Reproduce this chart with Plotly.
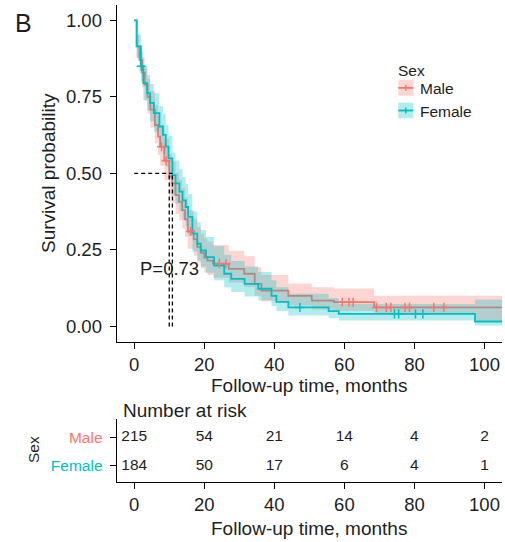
import plotly.graph_objects as go

# Kaplan-Meier estimates by sex: step times (months), survival and 95% CI
male_time = [0, 0.7, 1.5, 2.3, 3.0, 3.8, 4.6, 5.9, 6.8, 7.4, 8.6, 10.0, 10.8, 11.8, 12.8,
             13.7, 14.5, 15.3, 17.0, 18.0, 19.0, 20.0, 20.9, 22.5, 27.0, 31.4, 34.4,
             36.3, 44.0, 50.7, 57.0, 68.5, 97.3]
male_surv = [1.0, 0.915, 0.870, 0.830, 0.790, 0.750, 0.708, 0.658, 0.620, 0.587, 0.541,
             0.490, 0.467, 0.429, 0.407, 0.380, 0.350, 0.310, 0.285, 0.260, 0.240, 0.225,
             0.215, 0.205, 0.188, 0.172, 0.139, 0.117, 0.100, 0.084, 0.079, 0.062, 0.062]
male_lower = [1.0, 0.878, 0.826, 0.781, 0.737, 0.694, 0.650, 0.598, 0.559, 0.525, 0.478,
              0.427, 0.404, 0.367, 0.346, 0.320, 0.291, 0.254, 0.231, 0.208, 0.190, 0.176,
              0.168, 0.159, 0.143, 0.129, 0.100, 0.082, 0.068, 0.055, 0.050, 0.041, 0.019]
male_upper = [1.0, 0.952, 0.916, 0.880, 0.845, 0.809, 0.770, 0.723, 0.687, 0.656, 0.612,
              0.562, 0.539, 0.502, 0.479, 0.451, 0.421, 0.380, 0.352, 0.325, 0.303, 0.287,
              0.277, 0.266, 0.247, 0.229, 0.193, 0.168, 0.140, 0.128, 0.124, 0.100, 0.100]
male_censor = [7.8, 9.1, 16.1, 24.3, 26.2, 59.4, 61.3, 62.5, 69.2, 72.0, 73.3, 77.3,
               78.6, 85.5, 88.4]

female_time = [0, 0.7, 1.9, 2.6, 3.7, 4.5, 5.6, 7.2, 8.2, 9.0, 9.8, 10.9, 11.8, 12.9, 13.8,
               14.7, 15.4, 16.6, 18.0, 19.0, 20.5, 22.8, 25.7, 27.7, 31.5, 35.4, 39.2,
               40.6, 44.0, 55.5, 58.4, 97.3]
female_surv = [1.0, 0.915, 0.850, 0.795, 0.762, 0.730, 0.697, 0.653, 0.626, 0.587, 0.549,
               0.494, 0.467, 0.440, 0.412, 0.390, 0.358, 0.303, 0.270, 0.248, 0.226, 0.199,
               0.172, 0.155, 0.139, 0.123, 0.100, 0.080, 0.062, 0.050, 0.041, 0.016]
female_lower = [1.0, 0.875, 0.800, 0.740, 0.705, 0.670, 0.636, 0.590, 0.562, 0.522, 0.484,
                0.428, 0.401, 0.375, 0.348, 0.327, 0.297, 0.245, 0.215, 0.195, 0.175, 0.151,
                0.127, 0.112, 0.098, 0.085, 0.066, 0.050, 0.036, 0.027, 0.019, 0.003]
female_upper = [1.0, 0.955, 0.900, 0.850, 0.822, 0.792, 0.762, 0.720, 0.695, 0.658, 0.622,
                0.568, 0.542, 0.515, 0.488, 0.465, 0.432, 0.375, 0.340, 0.316, 0.292, 0.262,
                0.233, 0.214, 0.196, 0.178, 0.151, 0.128, 0.107, 0.092, 0.073, 0.088]
female_censor = [2.0, 47.3, 74.3, 75.5, 80.3, 82.4]

followup_end = 110
p_value = 0.73

# Number at risk table
risk_times = [0, 20, 40, 60, 80, 100]
male_at_risk = [215, 54, 21, 14, 4, 2]
female_at_risk = [184, 50, 17, 6, 4, 1]

MALE_COLOR = "#F8766D"
FEMALE_COLOR = "#00BFC4"
MALE_FILL = "rgba(248,118,109,0.3)"
FEMALE_FILL = "rgba(0,191,196,0.3)"
TEXT = "#1e1e1e"
FONT = "Liberation Sans, Arial, sans-serif"

W, H = 505, 542


def px(x):
    return x / W


def py(y):
    return 1 - y / H


def step_value(times, values, t):
    out = values[0]
    for ti, vi in zip(times, values):
        if ti <= t:
            out = vi
    return out


def median_time(times, surv):
    for ti, si in zip(times, surv):
        if si <= 0.5:
            return ti
    return None


fig = go.Figure()


def add_group(times, surv, lower, upper, line_color, fill_color):
    xs = times + [followup_end]
    fig.add_trace(go.Scatter(x=xs, y=lower + [lower[-1]], mode="lines",
                             line=dict(width=0, shape="hv"), hoverinfo="skip",
                             showlegend=False))
    fig.add_trace(go.Scatter(x=xs, y=upper + [upper[-1]], mode="lines",
                             line=dict(width=0, shape="hv"), fill="tonexty",
                             fillcolor=fill_color, hoverinfo="skip", showlegend=False))
    fig.add_trace(go.Scatter(x=xs, y=surv + [surv[-1]], mode="lines",
                             line=dict(color=line_color, width=1.8, shape="hv"),
                             showlegend=False))


add_group(male_time, male_surv, male_lower, male_upper, MALE_COLOR, MALE_FILL)
add_group(female_time, female_surv, female_lower, female_upper, FEMALE_COLOR, FEMALE_FILL)

# Censoring marks
for cens, times, surv, color in [(male_censor, male_time, male_surv, MALE_COLOR),
                                 (female_censor, female_time, female_surv, FEMALE_COLOR)]:
    fig.add_trace(go.Scatter(
        x=cens, y=[step_value(times, surv, c) for c in cens], mode="markers",
        marker=dict(symbol="cross-thin", size=6.5, line=dict(color=color, width=1.5)),
        showlegend=False))

# Median survival reference lines
med_m = median_time(male_time, male_surv)
med_f = median_time(female_time, female_surv)
dash = dict(color="black", width=1.3, dash="4px,3px")
fig.add_trace(go.Scatter(x=[0, max(med_m, med_f)], y=[0.5, 0.5], mode="lines",
                         line=dash, showlegend=False))
for m in (med_m, med_f):
    fig.add_trace(go.Scatter(x=[m, m], y=[0, 0.5], mode="lines", line=dash,
                             showlegend=False))

# Number at risk
for counts, row in [(male_at_risk, 1), (female_at_risk, 0)]:
    fig.add_trace(go.Scatter(x=risk_times, y=[row] * len(risk_times), mode="text",
                             text=[str(c) for c in counts],
                             textfont=dict(size=15.5, color=TEXT, family=FONT),
                             xaxis="x2", yaxis="y2", showlegend=False))

axis_common = dict(showline=True, linecolor="black", linewidth=1.1, ticks="outside",
                   ticklen=6, tickwidth=1.1, tickcolor="black", showgrid=False,
                   zeroline=False, tickfont=dict(size=18.5, color=TEXT, family=FONT))

x_domain = [px(116.7), px(502)]
fig.update_layout(
    width=W, height=H, margin=dict(l=0, r=0, t=0, b=0),
    paper_bgcolor="white", plot_bgcolor="white", font=dict(family=FONT, color=TEXT),
    xaxis=dict(domain=x_domain, range=[-5, 105], tickvals=risk_times, anchor="y",
               ticklabelstandoff=0, **axis_common),
    yaxis=dict(domain=[py(341.7), py(5)], range=[-0.05, 1.05],
               tickvals=[0, 0.25, 0.5, 0.75, 1.0], tickformat=".2f", anchor="x",
               ticklabelstandoff=4, **axis_common),
    xaxis2=dict(domain=x_domain, range=[-5, 105], tickvals=risk_times, anchor="y2",
                ticklabelstandoff=0, **axis_common),
    yaxis2=dict(domain=[py(481.7), py(419)], range=[-0.55, 1.64], tickvals=[0, 1],
                ticktext=[f"<span style='color:{FEMALE_COLOR}'>Female</span>",
                          f"<span style='color:{MALE_COLOR}'>Male</span>"],
                anchor="x2", ticklabelstandoff=4,
                **{**axis_common, "tickfont": dict(size=15.5, family=FONT)}),
    showlegend=False,
)

annotations = [
    dict(text="B", x=px(13), y=py(23), xanchor="left", font=dict(size=25)),
    dict(text="Survival probability", x=px(48), y=py(173), textangle=-90,
         font=dict(size=19)),
    dict(text="Follow-up time, months", x=px(309.3), y=py(385), font=dict(size=19)),
    dict(text="Number at risk", x=px(121), y=py(410.5), xanchor="left",
         font=dict(size=19)),
    dict(text="Sex", x=px(33), y=py(450), textangle=-90, font=dict(size=15.5)),
    dict(text="Follow-up time, months", x=px(309.3), y=py(528), font=dict(size=19)),
    dict(text="Sex", x=px(396), y=py(70), xanchor="left", font=dict(size=15.5)),
    dict(text="Male", x=px(417.5), y=py(88.3), xanchor="left", font=dict(size=15.5)),
    dict(text="Female", x=px(417.5), y=py(111), xanchor="left", font=dict(size=15.5)),
]
for a in annotations:
    a.setdefault("xanchor", "center")
    a.update(xref="paper", yref="paper", yanchor="middle", showarrow=False)
    a["font"] = dict(family=FONT, color=TEXT, **a["font"])
fig.update_layout(annotations=annotations)

fig.add_annotation(text=f"P={p_value}", x=1.2, y=0.19, xref="x", yref="y",
                   xanchor="left", yanchor="middle", showarrow=False,
                   font=dict(size=18.5, color=TEXT, family=FONT))

# Legend keys
shapes = []
for (y0, y1), color, fill in [((80, 95.7), MALE_COLOR, MALE_FILL),
                              ((102.7, 118.3), FEMALE_COLOR, FEMALE_FILL)]:
    ym = (y0 + y1) / 2
    shapes.append(dict(type="rect", x0=px(398.3), x1=px(413.3), y0=py(y1), y1=py(y0),
                       fillcolor=fill, line=dict(width=0)))
    shapes.append(dict(type="line", x0=px(398.3), x1=px(413.3), y0=py(ym), y1=py(ym),
                       line=dict(color=color, width=1.8)))
    shapes.append(dict(type="line", x0=px(405.8), x1=px(405.8), y0=py(ym - 3),
                       y1=py(ym + 3), line=dict(color=color, width=1.4)))
for s in shapes:
    s.update(xref="paper", yref="paper")
fig.update_layout(shapes=shapes)

fig.write_html("out.html")
